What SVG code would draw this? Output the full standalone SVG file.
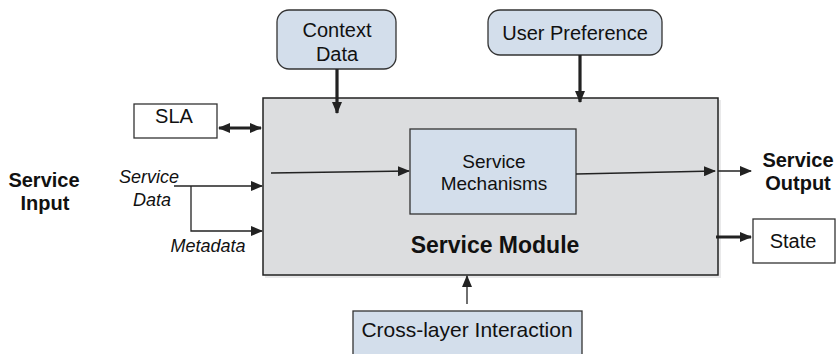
<svg xmlns="http://www.w3.org/2000/svg" width="838" height="354" viewBox="0 0 838 354">
<style>
  .t{font-family:"Liberation Sans",Arial,sans-serif;fill:#111;text-anchor:middle}
  .b{font-weight:bold}
  .i{font-style:italic}
  .blue{fill:#d3deeb;stroke:#333;stroke-width:1.3}
  .white{fill:#fff;stroke:#333;stroke-width:1.3}
  .thin{stroke:#222;stroke-width:1.3;fill:none}
  .thick{stroke:#222;stroke-width:3.2;fill:none}
</style>
<defs>
  <marker id="ah" markerUnits="userSpaceOnUse" markerWidth="12" markerHeight="10" refX="11" refY="5" orient="auto">
    <path d="M0,0 L12,5 L0,10 Z" fill="#222"/>
  </marker>
  <marker id="ahs" markerUnits="userSpaceOnUse" markerWidth="12" markerHeight="10" refX="1" refY="5" orient="auto">
    <path d="M12,0 L0,5 L12,10 Z" fill="#222"/>
  </marker>
</defs>

<g id="service-module">
  <rect x="265" y="100" width="456" height="178" fill="#e9e9ea"/>
  <rect x="263" y="98" width="455" height="177" fill="#dcdddf" stroke="#222" stroke-width="1.5"/>
  <text class="t b" x="495" y="253" font-size="23">Service Module</text>
</g>

<g id="service-mechanisms">
  <rect class="blue" x="410" y="129" width="166" height="85"/>
  <text class="t" x="494" y="168" font-size="19">Service</text>
  <text class="t" x="494" y="190" font-size="19">Mechanisms</text>
</g>

<g id="context-data">
  <rect class="blue" x="277" y="10" width="119" height="59" rx="12"/>
  <text class="t" x="337" y="37" font-size="20">Context</text>
  <text class="t" x="337" y="61" font-size="20">Data</text>
</g>

<g id="user-preference">
  <rect class="blue" x="488" y="10" width="174" height="45" rx="12"/>
  <text class="t" x="575" y="40" font-size="20">User Preference</text>
</g>

<g id="sla">
  <rect class="white" x="134" y="104" width="83" height="34"/>
  <text class="t" x="174" y="123" font-size="20">SLA</text>
</g>

<g id="state">
  <rect class="white" x="753" y="219" width="82" height="44"/>
  <text class="t" x="793" y="248" font-size="20">State</text>
</g>

<g id="cross-layer">
  <rect class="blue" x="353" y="311" width="229" height="50"/>
  <text class="t" x="467" y="337" font-size="21">Cross-layer Interaction</text>
</g>

<g id="service-input">
  <text class="t b" x="44" y="187" font-size="20">Service</text>
  <text class="t b" x="45" y="210" font-size="20">Input</text>
</g>

<g id="service-output">
  <text class="t b" x="798" y="167" font-size="20">Service</text>
  <text class="t b" x="798" y="190" font-size="20">Output</text>
</g>

<g id="labels">
  <text class="t i" x="149" y="183" font-size="18">Service</text>
  <text class="t i" x="152" y="206" font-size="18">Data</text>
  <text class="t i" x="208" y="252" font-size="18">Metadata</text>
</g>

<g id="connectors">
  <line class="thick" x1="337" y1="69" x2="337" y2="113" marker-end="url(#ah)"/>
  <line class="thick" x1="580" y1="55" x2="580" y2="102" marker-end="url(#ah)"/>
  <line class="thick" x1="219" y1="128" x2="261" y2="128" marker-start="url(#ahs)" marker-end="url(#ah)"/>
  <polyline class="thin" points="174,186 262,186" marker-end="url(#ah)"/>
  <polyline class="thin" points="191,186 191,231 262,231" marker-end="url(#ah)"/>
  <line class="thin" x1="271" y1="173" x2="409" y2="171" marker-end="url(#ah)"/>
  <line class="thin" x1="576" y1="174" x2="715" y2="171" marker-end="url(#ah)"/>
  <line class="thin" x1="718" y1="171" x2="751" y2="171" marker-end="url(#ah)"/>
  <line class="thick" x1="716" y1="237" x2="751" y2="237" marker-end="url(#ah)"/>
  <line class="thin" x1="467" y1="304" x2="467" y2="276" marker-end="url(#ah)"/>
</g>
</svg>
